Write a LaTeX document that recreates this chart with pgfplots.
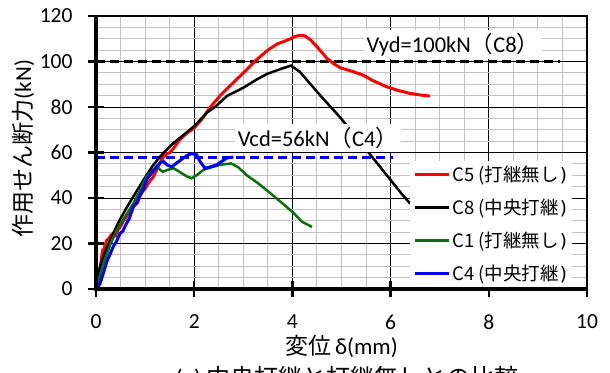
\documentclass[border=0pt]{standalone}
\usepackage{pgfplots}
\pgfplotsset{compat=1.18}
\usepackage{fontspec}
\setmainfont{Carlito}
\newfontfamily\cjk{Noto Sans CJK JP}
\newfontfamily\parfont{DejaVu Sans}
\definecolor{dgreen}{RGB}{10,110,10}
\begin{document}
\begin{tikzpicture}
\begin{axis}[name=ax, scale only axis, width=491pt, height=273pt,
  xmin=0, xmax=10, ymin=0, ymax=120,
  xtick={0,2,...,10}, ytick={0,20,...,120},
  minor x tick num=3, minor y tick num=3,
  grid=both,
  major grid style={black, line width=0.8pt},
  minor grid style={black!24, line width=1pt},
  tick pos=left, tick align=center,
  major tick length=16pt, minor tick length=0pt,
  major tick style={black, line width=2.5pt},
  axis line style={black, line width=1.5pt},
  tick label style={font=\fontsize{21.5}{25}\selectfont},
  yticklabel style={xshift=-12pt},
  xticklabel style={yshift=-14pt},
  /pgf/number format/assume math mode=true,
  xlabel={{\cjk 変位}\,δ(mm)},
  ylabel={{\cjk 作用せん断力}(kN)},
  label style={font=\fontsize{23}{27}\selectfont},
  xlabel style={at={(axis description cs:0.5,-0.209)}, anchor=center},
  ylabel style={at={(axis description cs:-0.1487,0.5147)}, anchor=center},
  clip mode=individual,
  legend style={at={(0.64,0.47)}, anchor=north west, draw=none, fill=white,
    font=\cjk\fontsize{18.5}{21}\selectfont, row sep=12pt, inner sep=3pt},
  legend cell align=left,
  legend image code/.code={\draw[#1] (0pt,0pt) -- (34pt,0pt);},
]
\addplot[black, line width=3pt, dash pattern=on 9pt off 5pt, forget plot] coordinates {(0,100) (9.45,100)};
\addplot[blue, line width=3pt, dash pattern=on 9pt off 5pt, forget plot] coordinates {(0,58) (6.05,58)};
\addplot[red, line width=3pt] coordinates {
(0,0) (0.03,5) (0.05,8) (0.08,7) (0.1,12) (0.13,16) (0.15,15) (0.18,19) (0.22,21.5) (0.26,22) (0.3,23.5) (0.35,24.5) (0.4,23.5) (0.45,26) (0.5,27.5) (0.56,30) (0.6,31) (0.66,33) (0.7,34) (0.76,36) (0.8,37.5) (0.85,38) (0.9,41) (0.97,43.5) (1.0,44) (1.05,46) (1.1,47.5) (1.17,49.4) (1.25,53) (1.32,56) (1.37,58) (1.45,59.5) (1.51,60) (1.6,62.5) (1.71,65.7) (1.85,68.5) (2,70.8) (2.15,74.5) (2.33,80) (2.55,85.5) (2.8,90.8) (3.05,96) (3.28,101) (3.5,105) (3.69,107.7) (3.85,109) (3.96,110) (4.05,111) (4.16,111.5) (4.25,111.3) (4.37,109.5) (4.5,106.5) (4.6,104) (4.7,101.5) (4.83,99.2) (4.97,97.3) (5.2,95.8) (5.44,94) (5.65,91.5) (5.92,88.9) (6.15,87.3) (6.39,86) (6.6,85.3) (6.8,84.8)};
\addlegendentry{C5 (打継無し\kern1pt{\parfont )}}
\addplot[black, line width=2.5pt] coordinates {
(0,0) (0.08,9.6) (0.18,16) (0.29,21.4) (0.45,29) (0.63,36) (0.8,42) (0.97,48) (1.15,54) (1.31,58.3) (1.45,61.5) (1.58,64.2) (1.8,68) (2,71.6) (2.26,77.5) (2.45,80.5) (2.67,84.9) (2.85,86.8) (3.01,88.6) (3.25,91.8) (3.48,94.5) (3.76,96.7) (3.97,98.2) (4.15,95.5) (4.57,85) (4.97,75.5) (5.51,61.1) (6.22,42) (6.4,37.5)};
\addlegendentry{C8 (中央打継\kern1pt{\parfont )}}
\addplot[dgreen, line width=2.5pt] coordinates {
(0,0) (0.15,11) (0.3,20) (0.42,25.8) (0.6,32) (0.76,37.6) (0.9,43.5) (1.03,49.4) (1.15,52) (1.24,53.9) (1.3,52.5) (1.36,51.5) (1.45,52.3) (1.58,53.1) (1.7,51.5) (1.85,49.5) (1.95,48.7) (2.05,50) (2.19,52.4) (2.35,53.5) (2.53,54.6) (2.75,55.2) (2.9,53.5) (3.07,50) (3.3,46.5) (3.5,43) (3.75,38.5) (4.02,33.5) (4.2,29.5) (4.4,27.3)};
\addlegendentry{C1 (打継無し\kern1pt{\parfont )}}
\addplot[blue, line width=3pt] coordinates {
(0,0) (0.08,2.2) (0.15,7) (0.22,12) (0.29,15.5) (0.36,19) (0.42,21) (0.49,24.4) (0.55,25.5) (0.6,28) (0.68,31) (0.76,36.2) (0.82,37.5) (0.9,41.5) (0.97,44) (1.03,48) (1.1,50) (1.17,52) (1.24,53.9) (1.31,55.5) (1.37,56.1) (1.45,54.5) (1.54,53.7) (1.65,55.5) (1.78,57.6) (1.88,59) (1.95,59.5) (2.05,59) (2.12,56) (2.22,53.1) (2.35,53.8) (2.46,54.6) (2.57,56.2) (2.67,57.6) (2.8,58)};
\addlegendentry{C4 (中央打継\kern1pt{\parfont )}}
\node[fill=white, inner sep=3pt, font=\fontsize{22.5}{26}\selectfont] at (axis cs:7.27,107.3) {Vyd=100kN{\cjk （}C8{\cjk ）}};
\node[fill=white, inner sep=3pt, font=\fontsize{22.5}{26}\selectfont] at (axis cs:4.52,66.4) {Vcd=56kN{\cjk （}C4{\cjk ）}};
\end{axis}
\draw[black, line width=3.5pt] (ax.north west) -- (ax.south west) -- (ax.south east);
\node[anchor=base, font=\fontsize{24}{28}\selectfont] at ([shift={(251pt,-97pt)}]ax.south west) {(a)\ {\cjk 中央打継と打継無しとの比較}};
\pgfresetboundingbox
\path[use as bounding box] ([shift={(-96pt,-83pt)}]ax.south west) rectangle ++(610pt,372pt);
\end{tikzpicture}
\end{document}
